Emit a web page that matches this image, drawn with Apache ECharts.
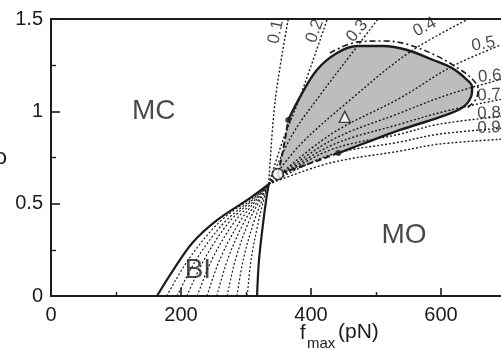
<!DOCTYPE html>
<html>
<head>
<meta charset="utf-8">
<script src="https://cdn.jsdelivr.net/npm/echarts@6/dist/echarts.min.js"></script>
<style>
  html, body { margin: 0; background: #fff; }
  #chart { width: 501px; height: 355px; }
</style>
</head>
<body>
<div id="chart"></div>
<script>
// dotted lines of constant ratio, running out of the crossing point
const rayNames = ['0.1', '0.2', '0.3', '0.4', '0.5', '0.6', '0.7', '0.8', '0.9', ''];
const rays = [
  [[335, 0.606], [345, 1.061], [365, 1.5]],
  [[335, 0.606], [357, 0.845], [383, 1.077], [425, 1.5]],
  [[335, 0.606], [371, 0.872], [414, 1.088], [475, 1.37], [503, 1.5]],
  [[335, 0.606], [383, 0.818], [460, 1.061], [552, 1.321], [642, 1.5]],
  [[335, 0.606], [429, 0.872], [537, 1.072], [618, 1.245], [700, 1.37]],
  [[335, 0.606], [429, 0.839], [537, 0.991], [614, 1.094], [700, 1.18]],
  [[335, 0.606], [429, 0.812], [537, 0.931], [614, 1.007], [700, 1.07]],
  [[335, 0.606], [429, 0.79], [537, 0.877], [598, 0.931], [700, 0.975]],
  [[335, 0.606], [429, 0.763], [537, 0.834], [598, 0.877], [700, 0.91]],
  [[335, 0.606], [429, 0.72], [537, 0.785], [598, 0.823], [700, 0.85]]
];
// where each ray label sits, and its tilt in degrees
const rayLabelPos = [[346, 1.43], [406, 1.435], [471, 1.435], [575, 1.456], [665, 1.364], [675, 1.19], [674, 1.088], [674, 0.99], [674, 0.91]];
const rayLabelTilt = [78, 70, 50, 28, 10, 5, 3, 3, 2];

// the bistable (BI) fan below the crossing
const biLeft = [[163, 0], [188, 0.14], [218, 0.29], [255, 0.41], [306, 0.53], [335, 0.606]];
const biRight = [[317, 0], [320, 0.195], [326, 0.385], [331, 0.52], [335, 0.606]];
const biBase = [178, 194, 209, 225, 240, 255, 271, 286, 302];
const biAt02 = [212, 224, 236, 248, 260, 272, 284, 296, 308];
const biAt04 = [259, 267, 274, 282, 290, 297, 304, 312, 319];
const biAt053 = [308, 311, 313, 316, 318, 321, 323, 326, 328];

// grey lobe
const lobeSolid = [[365, 0.953], [383, 1.077], [409, 1.224], [440, 1.316], [471, 1.354], [511, 1.354], [548, 1.332],
  [588, 1.278], [617, 1.234], [637, 1.18], [648, 1.132], [646, 1.077], [632, 1.018], [598, 0.969], [537, 0.899],
  [491, 0.839], [442, 0.774]];
const lobeDashUpper = [[349, 0.66], [357, 0.79], [365, 0.953]];
const lobeDashLower = [[442, 0.774], [391, 0.709], [349, 0.66]];
const lobeOuter = [[429, 1.316], [471, 1.375], [514, 1.381], [552, 1.359], [594, 1.299], [626, 1.234], [648, 1.175],
  [657, 1.121], [654, 1.067], [640, 1.018]];

const openCircle = [349, 0.66];
const openTriangle = [452, 0.97];
const dots = [[365, 0.953], [442, 0.774]];

const regions = [['MC', 158, 1.0], ['MO', 543, 0.33], ['BI', 226, 0.14]];

const ink = '#1c1c1c';
const font = 'Liberation Sans, Arial, Helvetica, sans-serif';

function curve(data, width, type, z) {
  return {
    type: 'line', data: data, showSymbol: false, smooth: 0.35, silent: true, z: z || 3,
    lineStyle: {color: ink, width: width, type: type}
  };
}

const series = [];

series.push({
  type: 'custom', data: [[0, 0]], silent: true, z: 1,
  renderItem: function (params, api) {
    const pts = lobeDashUpper.concat(lobeSolid.slice(1), lobeDashLower.slice(1));
    return {type: 'polygon', shape: {points: pts.map(p => api.coord(p)), smooth: 0.3}, style: {fill: '#bdbdbd'}};
  }
});

rays.forEach(r => series.push(curve(r, 1.4, [2, 2])));

for (let i = 0; i < biBase.length; i++) {
  series.push(curve([[biBase[i], 0], [biAt02[i], 0.2], [biAt04[i], 0.4], [biAt053[i], 0.53], [335, 0.606]], 1.2, [2, 2]));
}
series.push(curve(biLeft, 2.2, 'solid', 4));
series.push(curve(biRight, 2.2, 'solid', 4));

series.push(curve(lobeSolid, 2.4, 'solid', 4));
series.push(curve(lobeDashUpper, 2, [6, 3], 4));
series.push(curve(lobeDashLower, 2, [6, 3], 4));
series.push(curve(lobeOuter, 1.6, [6, 3, 2, 3], 4));

series.push({
  type: 'scatter', silent: true, z: 6, symbolSize: 0,
  data: rayLabelPos.map((p, i) => ({value: p, name: rayNames[i], label: {rotate: rayLabelTilt[i]}})),
  label: {show: true, position: 'inside', formatter: '{b}', color: ink, fontSize: 17, fontFamily: font}
});
series.push({
  type: 'scatter', silent: true, z: 6, symbolSize: 0,
  data: regions.map(r => ({value: [r[1], r[2]], name: r[0]})),
  label: {show: true, position: 'inside', formatter: '{b}', color: ink, fontSize: 28, fontFamily: font}
});
series.push({
  type: 'scatter', silent: true, z: 7, symbol: 'circle', symbolSize: 6,
  itemStyle: {color: ink}, data: dots
});
series.push({
  type: 'scatter', silent: true, z: 7, symbol: 'circle', symbolSize: 11,
  itemStyle: {color: '#fff', borderColor: ink, borderWidth: 1.6}, data: [openCircle]
});
series.push({
  type: 'scatter', silent: true, z: 7, symbol: 'triangle', symbolSize: 11,
  itemStyle: {color: '#fff', borderColor: ink, borderWidth: 1.4}, data: [openTriangle]
});

const option = {
  animation: false,
  backgroundColor: '#fff',
  grid: {left: 51, right: -5, top: 19, bottom: 59, outerBoundsMode: 'none',
    show: true, borderColor: ink, borderWidth: 2, backgroundColor: 'transparent'},
  xAxis: {
    type: 'value', min: 0, max: 700, interval: 200,
    axisLine: {lineStyle: {color: ink, width: 2}},
    axisTick: {inside: true, length: 8, lineStyle: {color: ink, width: 1.6}},
    minorTick: {show: true, splitNumber: 2, length: 4, lineStyle: {color: ink, width: 1.4}},
    axisLabel: {color: ink, fontSize: 20, fontFamily: font, margin: 9, showMaxLabel: false},
    splitLine: {show: false}
  },
  yAxis: {
    type: 'value', min: 0, max: 1.5, interval: 0.5,
    name: 'ρ', nameLocation: 'middle', nameGap: 44, nameRotate: 0,
    nameTextStyle: {color: ink, fontSize: 22, fontFamily: font},
    axisLine: {lineStyle: {color: ink, width: 2}},
    axisTick: {inside: true, length: 9, lineStyle: {color: ink, width: 1.6}},
    minorTick: {show: true, splitNumber: 2, length: 5, lineStyle: {color: ink, width: 1.4}},
    axisLabel: {color: ink, fontSize: 20, fontFamily: font, margin: 8},
    splitLine: {show: false}
  },
  graphic: [
    {type: 'text', left: 300, top: 323, style: {text: 'f', fill: ink, fontSize: 20, fontFamily: font}},
    {type: 'text', left: 307, top: 336, style: {text: 'max', fill: ink, fontSize: 15, fontFamily: font}},
    {type: 'text', left: 338, top: 322, style: {text: '(pN)', fill: ink, fontSize: 21, fontFamily: font}}
  ],
  series: series
};

const chart = echarts.init(document.getElementById('chart'));
chart.setOption(option);
</script>
</body>
</html>
